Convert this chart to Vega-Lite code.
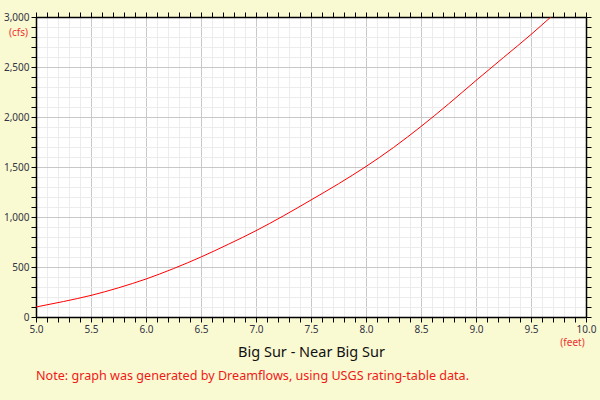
{
  "$schema": "https://vega.github.io/schema/vega-lite/v6.json",
  "autosize": {"type": "none"},
  "width": 550,
  "height": 300,
  "padding": {"left": 36, "top": 17, "right": 14, "bottom": 83},
  "background": "#fafad2",
  "config": {
    "font": "Noto Sans",
    "view": {"fill": "#ffffff", "stroke": null},
    "axis": {
      "domainColor": "#000000",
      "domainWidth": 1.5,
      "tickColor": "#000000",
      "tickSize": 5,
      "tickWidth": 1,
      "labelFont": "Noto Sans",
      "labelFontSize": 10,
      "labelColor": "#333344",
      "labelPadding": 2
    },
    "title": {"font": "Noto Sans"}
  },
  "title": {
    "text": "Note: graph was generated by Dreamflows, using USGS rating-table data.",
    "orient": "bottom",
    "anchor": "start",
    "frame": "group",
    "fontSize": 12.6,
    "fontWeight": "normal",
    "color": "#f01818",
    "offset": 11
  },
  "data": {
    "values": [
      {"stage": 5.0, "flow": 100},
      {"stage": 5.25, "flow": 155},
      {"stage": 5.5, "flow": 216},
      {"stage": 5.75, "flow": 292},
      {"stage": 6.0, "flow": 380},
      {"stage": 6.25, "flow": 484},
      {"stage": 6.5, "flow": 600},
      {"stage": 6.75, "flow": 728},
      {"stage": 7.0, "flow": 863},
      {"stage": 7.25, "flow": 1012},
      {"stage": 7.5, "flow": 1170},
      {"stage": 7.75, "flow": 1332},
      {"stage": 8.0, "flow": 1505},
      {"stage": 8.25, "flow": 1695},
      {"stage": 8.5, "flow": 1905},
      {"stage": 8.75, "flow": 2130},
      {"stage": 9.0, "flow": 2365},
      {"stage": 9.25, "flow": 2595},
      {"stage": 9.5, "flow": 2825},
      {"stage": 9.68, "flow": 3000}
    ]
  },
  "layer": [
    {
      "mark": {"type": "line", "strokeOpacity": 0},
      "encoding": {
        "x": {
          "field": "stage", "type": "quantitative",
          "scale": {"domain": [5, 10], "nice": false, "zero": false},
          "axis": {
            "orient": "top",
            "values": [5.0,5.1,5.2,5.3,5.4,5.5,5.6,5.7,5.8,5.9,6.0,6.1,6.2,6.3,6.4,6.5,6.6,6.7,6.8,6.9,7.0,7.1,7.2,7.3,7.4,7.5,7.6,7.7,7.8,7.9,8.0,8.1,8.2,8.3,8.4,8.5,8.6,8.7,8.8,8.9,9.0,9.1,9.2,9.3,9.4,9.5,9.6,9.7,9.8,9.9,10.0],
            "labels": false,
            "grid": false,
            "title": null
          }
        },
        "y": {
          "field": "flow", "type": "quantitative",
          "scale": {"domain": [0, 3000], "nice": false},
          "axis": {
            "orient": "right",
            "values": [0,100,200,300,400,500,600,700,800,900,1000,1100,1200,1300,1400,1500,1600,1700,1800,1900,2000,2100,2200,2300,2400,2500,2600,2700,2800,2900,3000],
            "labels": false,
            "grid": false,
            "title": null
          }
        }
      }
    },
    {
      "mark": {"type": "line", "color": "#ff0000", "strokeWidth": 1, "interpolate": "monotone", "clip": true},
      "encoding": {
        "x": {
          "field": "stage", "type": "quantitative",
          "axis": {
            "orient": "bottom",
            "values": [5.0,5.1,5.2,5.3,5.4,5.5,5.6,5.7,5.8,5.9,6.0,6.1,6.2,6.3,6.4,6.5,6.6,6.7,6.8,6.9,7.0,7.1,7.2,7.3,7.4,7.5,7.6,7.7,7.8,7.9,8.0,8.1,8.2,8.3,8.4,8.5,8.6,8.7,8.8,8.9,9.0,9.1,9.2,9.3,9.4,9.5,9.6,9.7,9.8,9.9,10.0],
            "labelExpr": "round(datum.value*10) % 5 == 0 ? format(datum.value, '.1f') : ''",
            "labelFlush": false,
            "labelOverlap": false,
            "grid": true,
            "gridColor": {"condition": {"test": "round(datum.value*10) % 5 == 0", "value": "#c8c8c8"}, "value": "#ececec"},
            "gridWidth": 1,
            "title": "Big Sur - Near Big Sur",
            "titleFontSize": 14.5,
            "titleFontWeight": "normal",
            "titleColor": "#111111",
            "titleY": 35,
            "titleBaseline": "middle"
          }
        },
        "y": {
          "field": "flow", "type": "quantitative",
          "axis": {
            "orient": "left",
            "values": [0,100,200,300,400,500,600,700,800,900,1000,1100,1200,1300,1400,1500,1600,1700,1800,1900,2000,2100,2200,2300,2400,2500,2600,2700,2800,2900,3000],
            "labelExpr": "round(datum.value) % 500 == 0 ? format(datum.value, ',d') : ''",
            "labelOverlap": false,
            "labelFlush": false,
            "grid": true,
            "gridColor": {"condition": {"test": "round(datum.value) % 500 == 0", "value": "#c8c8c8"}, "value": "#ececec"},
            "gridWidth": 1,
            "title": "(cfs)",
            "titleAngle": 0,
            "titleFontSize": 10,
            "titleFontWeight": "normal",
            "titleColor": "#f03030",
            "titleX": -18,
            "titleY": 15,
            "titleAlign": "center",
            "titleBaseline": "middle"
          }
        }
      }
    },
    {
      "mark": {"type": "line", "strokeOpacity": 0},
      "encoding": {
        "x": {
          "field": "stage", "type": "quantitative",
          "axis": {
            "orient": "top",
            "labels": false,
            "ticks": false,
            "domain": false,
            "grid": false,
            "title": "(feet)",
            "titleFontSize": 10,
            "titleFontWeight": "normal",
            "titleColor": "#f03030",
            "titleX": 536,
            "titleY": 325,
            "titleAlign": "center",
            "titleBaseline": "middle"
          }
        }
      }
    }
  ],
  "resolve": {"axis": {"x": "independent", "y": "independent"}}
}
